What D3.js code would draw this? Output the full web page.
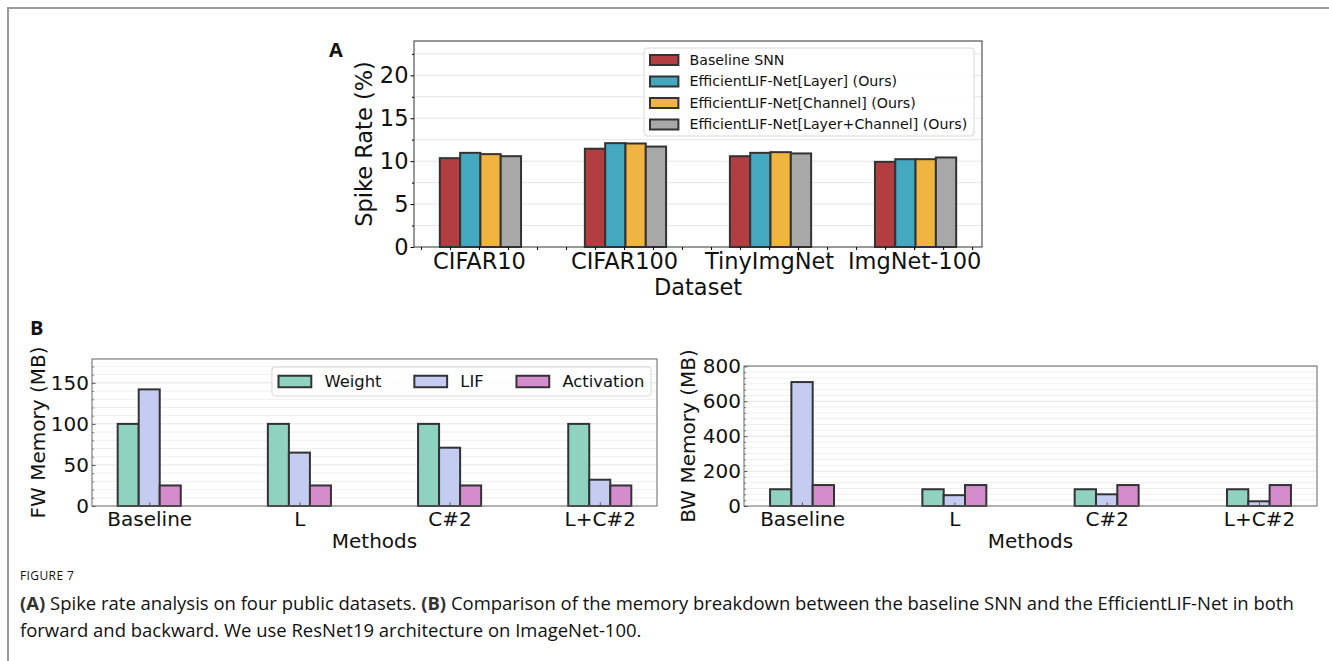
<!DOCTYPE html>
<html>
<head>
<meta charset="utf-8">
<script src="https://cdn.jsdelivr.net/npm/d3@7"></script>
<style>
  body { margin: 0; background: #fff; }
  svg { display: block; }
  text { font-family: "DejaVu Sans", sans-serif; fill: #111; }
  .caption text, text.caption { font-family: "Open Sans", sans-serif; }
</style>
</head>
<body>
<svg id="fig" width="1329" height="661"></svg>
<script>
'use strict';

// ---- data ----
var datasets = ['CIFAR10', 'CIFAR100', 'TinyImgNet', 'ImgNet-100'];
var spikeSeries = ['Baseline SNN', 'EfficientLIF-Net[Layer] (Ours)',
  'EfficientLIF-Net[Channel] (Ours)', 'EfficientLIF-Net[Layer+Channel] (Ours)'];
var spikeBaseline = [10.35, 11.45, 10.58, 9.92];
var spikeLayer = [10.97, 12.1, 10.97, 10.23];
var spikeChannel = [10.82, 12.06, 11.05, 10.23];
var spikeLayerChannel = [10.58, 11.7, 10.9, 10.43];
var spikeTicks = [0, 5, 10, 15, 20];

var methods = ['Baseline', 'L', 'C#2', 'L+C#2'];
var memSeries = ['Weight', 'LIF', 'Activation'];
var fwWeight = [100, 100, 100, 100];
var fwLIF = [142, 65, 71, 32];
var fwAct = [25, 25, 25, 25];
var bwWeight = [96, 96, 96, 96];
var bwLIF = [710, 62, 67, 27];
var bwAct = [120, 120, 120, 120];
var fwTicks = [0, 50, 100, 150];
var bwTicks = [0, 200, 400, 600, 800];

var spikeColors = ['#b23e42', '#44a8c0', '#f0b540', '#a8a8a8'];
var memColors = ['#8ed2bf', '#c4ccf2', '#d48ccc'];

var svg = d3.select('#fig');
svg.append('rect').attr('width', 1329).attr('height', 661).attr('fill', '#fff');

// page frame
svg.append('path')
  .attr('d', 'M8,661V8H1329')
  .attr('fill', 'none')
  .attr('stroke', '#9a9a9a')
  .attr('stroke-width', 2);

function gridLines(g, y, values, x0, x1, color) {
  g.selectAll(null).data(values).enter().append('line')
    .attr('x1', x0).attr('x2', x1)
    .attr('y1', function(d) { return y(d); })
    .attr('y2', function(d) { return y(d); })
    .attr('stroke', color)
    .attr('stroke-width', 1);
}

function styleAxis(g, size) {
  g.select('.domain').remove();
  g.selectAll('text').style('font-size', size + 'px').attr('fill', '#111');
}

// ---------------- panel A ----------------
var xA = d3.scaleLinear().domain([-0.248, 3.668]).range([414, 982]);
var yA = d3.scaleLinear().domain([0, 24]).range([247, 41]);
var barW = 0.14;
var spikeData = [spikeBaseline, spikeLayer, spikeChannel, spikeLayerChannel];
var gA = svg.append('g');

gridLines(gA, yA, d3.range(2.5, 24, 2.5), 414, 982, '#e6e6e6');

spikeData.forEach(function(values, j) {
  gA.selectAll(null).data(values).enter().append('rect')
    .attr('x', function(d, i) { return xA(i + j * barW - barW / 2); })
    .attr('width', xA(barW) - xA(0))
    .attr('y', function(d) { return yA(d); })
    .attr('height', function(d) { return yA(0) - yA(d); })
    .attr('fill', spikeColors[j])
    .attr('stroke', '#333')
    .attr('stroke-width', 2);
});

gA.append('rect')
  .attr('x', 414).attr('y', 41).attr('width', 568).attr('height', 206)
  .attr('fill', 'none').attr('stroke', '#333').attr('stroke-width', 1);

var yAxisA = gA.append('g').attr('transform', 'translate(414,0)')
  .call(d3.axisLeft(yA).tickValues(spikeTicks).tickSize(3.5).tickPadding(2));
styleAxis(yAxisA, 22.5);
var yMinorA = gA.append('g').attr('transform', 'translate(414,0)')
  .call(d3.axisLeft(yA).tickValues(d3.range(2.5, 24, 5)).tickSize(2).tickFormat(''));
yMinorA.select('.domain').remove();

var xAxisA = gA.append('g').attr('transform', 'translate(0,247)')
  .call(d3.axisBottom(xA).tickValues(datasets.map(function(d, i) { return i + 0.2; }))
    .tickFormat(function(d, i) { return datasets[i]; }).tickSize(3).tickPadding(3));
styleAxis(xAxisA, 22.5);
var xMinorA = gA.append('g').attr('transform', 'translate(0,247)')
  .call(d3.axisBottom(xA).tickValues(d3.range(-0.2, 3.61, 0.2)).tickSize(3).tickFormat(''));
xMinorA.select('.domain').remove();

gA.append('text').attr('x', 698).attr('y', 295)
  .attr('text-anchor', 'middle').style('font-size', '22.5px').text('Dataset');
gA.append('text').attr('transform', 'translate(372,144) rotate(-90)')
  .attr('text-anchor', 'middle').style('font-size', '22.5px').text('Spike Rate (%)');

// legend A
var legA = gA.append('g');
legA.append('rect')
  .attr('x', 644).attr('y', 48).attr('width', 330).attr('height', 88).attr('rx', 3)
  .attr('fill', '#fff').attr('fill-opacity', 0.85)
  .attr('stroke', '#d8d8d8').attr('stroke-width', 1);
spikeSeries.forEach(function(name, j) {
  var cy = 60 + j * 21.5;
  legA.append('rect')
    .attr('x', 650).attr('y', cy - 5).attr('width', 28.4).attr('height', 10)
    .attr('fill', spikeColors[j]).attr('stroke', '#333').attr('stroke-width', 2);
  legA.append('text')
    .attr('x', 689.5).attr('y', cy).attr('dy', '0.35em')
    .style('font-size', '14.2px').text(name);
});

svg.append('text').attr('x', 329).attr('y', 57)
  .style('font-size', '20px').style('font-weight', 'bold')
  .style('font-family', '"Open Sans", sans-serif').text('A');

// ---------------- panel B ----------------
function memPanel(left, right, yMax, values, ticks, minorStep, yLabel, labelX) {
  var x = d3.scaleLinear().domain([-0.381, 3.381]).range([left, right]);
  var y = d3.scaleLinear().domain([0, yMax]).range([506, 506 - (yMax > 500 ? 140 : 147)]);
  var top = y(yMax);
  var g = svg.append('g');

  var minor = d3.range(minorStep, yMax, minorStep).filter(function(v) {
    return ticks.every(function(t) { return Math.abs(t - v) > 1e-6; });
  });
  gridLines(g, y, minor, left, right, '#efefef');
  gridLines(g, y, ticks.slice(1), left, right, '#e2e2e2');

  values.forEach(function(vals, j) {
    g.selectAll(null).data(vals).enter().append('rect')
      .attr('x', function(d, i) { return x(i + (j - 1) * barW - barW / 2); })
      .attr('width', x(barW) - x(0))
      .attr('y', function(d) { return y(d); })
      .attr('height', function(d) { return y(0) - y(d); })
      .attr('fill', memColors[j])
      .attr('stroke', '#333')
      .attr('stroke-width', 2);
  });

  g.append('rect')
    .attr('x', left).attr('y', top).attr('width', right - left).attr('height', 506 - top)
    .attr('fill', 'none').attr('stroke', '#666').attr('stroke-width', 1);

  var ya = g.append('g').attr('transform', 'translate(' + left + ',0)')
    .call(d3.axisLeft(y).tickValues(ticks).tickSizeInner(-3.5).tickSizeOuter(0).tickPadding(3));
  styleAxis(ya, 20);
  ya.selectAll('line').attr('stroke', '#555');
  var ym = g.append('g').attr('transform', 'translate(' + left + ',0)')
    .call(d3.axisLeft(y).tickValues(minor).tickSizeInner(-2).tickSizeOuter(0).tickFormat(''));
  ym.select('.domain').remove();
  ym.selectAll('line').attr('stroke', '#777');

  var xa = g.append('g').attr('transform', 'translate(0,506)')
    .call(d3.axisBottom(x).tickValues(d3.range(methods.length))
      .tickFormat(function(d, i) { return methods[i]; })
      .tickSizeInner(-3.5).tickSizeOuter(0).tickPadding(6));
  styleAxis(xa, 20);
  xa.selectAll('line').attr('stroke', '#555');

  g.append('text').attr('x', (left + right) / 2).attr('y', 548)
    .attr('text-anchor', 'middle').style('font-size', '20px').text('Methods');
  g.append('text').attr('transform', 'translate(' + labelX + ',' + ((top + 506) / 2) + ') rotate(-90)')
    .attr('text-anchor', 'middle').style('font-size', '20px').text(yLabel);
  return { g: g, x: x, y: y, top: top };
}

var fw = memPanel(92, 657, 179, [fwWeight, fwLIF, fwAct], fwTicks, 10, 'FW Memory (MB)', 45);
var bw = memPanel(744, 1317, 802, [bwWeight, bwLIF, bwAct], bwTicks, 200 / 6, 'BW Memory (MB)', 695);

// legend B (one row, upper right of FW panel)
var legB = fw.g.append('g');
var fsB = 16.4, hLen = 2 * fsB, hGap = 0.8 * fsB, colGap = 2 * fsB, padB = 0.4 * fsB;
var items = [];
var cx = 0;
memSeries.forEach(function(name, j) {
  var t = legB.append('text').style('font-size', fsB + 'px').attr('dy', '0.35em').text(name);
  var w = t.node().getComputedTextLength();
  items.push({ t: t, hx: cx, tx: cx + hLen + hGap, j: j });
  cx += hLen + hGap + w + (j < memSeries.length - 1 ? colGap : 0);
});
var legRight = 651, legTop = 367, legH = 29;
var legLeft = legRight - cx - 2 * padB;
legB.insert('rect', 'text')
  .attr('x', legLeft).attr('y', legTop).attr('width', legRight - legLeft).attr('height', legH).attr('rx', 3)
  .attr('fill', '#fff').attr('fill-opacity', 0.85)
  .attr('stroke', '#d8d8d8').attr('stroke-width', 1);
items.forEach(function(it) {
  var cyB = legTop + legH / 2;
  legB.append('rect')
    .attr('x', legLeft + padB + it.hx).attr('y', cyB - 0.35 * fsB)
    .attr('width', hLen).attr('height', 0.7 * fsB)
    .attr('fill', memColors[it.j]).attr('stroke', '#333').attr('stroke-width', 2);
  it.t.attr('x', legLeft + padB + it.tx).attr('y', cyB);
});

svg.append('text').attr('x', 30).attr('y', 335)
  .style('font-size', '20px').style('font-weight', 'bold')
  .style('font-family', '"Open Sans", sans-serif').text('B');

// ---------------- caption ----------------
var cap = svg.append('g').attr('class', 'caption');
cap.append('text').attr('x', 20).attr('y', 580)
  .style('font-size', '12px').style('letter-spacing', '0.4px').attr('fill', '#555')
  .text('FIGURE 7');
var line1 = cap.append('text').attr('x', 20).attr('y', 610).attr('fill', '#555').style('font-size', '16px');
line1.append('tspan').style('font-weight', 'bold').attr('fill', '#333').text('(A)');
line1.append('tspan').text(' Spike rate analysis on four public datasets. ');
line1.append('tspan').style('font-weight', 'bold').attr('fill', '#333').text('(B)');
line1.append('tspan').text(' Comparison of the memory breakdown between the baseline SNN and the EfficientLIF-Net in both');
var line2 = cap.append('text').attr('x', 20).attr('y', 637).attr('fill', '#555').style('font-size', '16px')
  .text('forward and backward. We use ResNet19 architecture on ImageNet-100.');
var w1 = line1.node().getComputedTextLength();
var fsCap = 16 * 1275 / w1;
line1.style('font-size', fsCap + 'px');
line2.style('font-size', fsCap + 'px');
</script>
</body>
</html>
